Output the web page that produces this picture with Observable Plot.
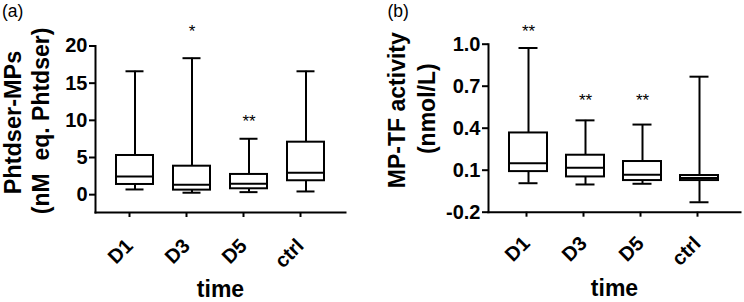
<!DOCTYPE html>
<html><head><meta charset="utf-8">
<script src="https://cdn.jsdelivr.net/npm/d3@7"></script>
<script src="https://cdn.jsdelivr.net/npm/@observablehq/plot@0.6"></script>
<style>
body{margin:0;background:#fff;}
#wrap{display:flex;width:744px;height:302px;overflow:hidden;}
</style></head><body><div id="wrap"></div>
<script>
const categories = ["D1", "D3", "D5", "ctrl"];

// Panel (a): Phtdser-MPs (nM eq. Phtdser)
const psMin = [0.70, 0.26, 0.34, 0.43];
const psQ1 = [1.37, 0.61, 0.79, 1.87];
const psMedian = [2.45, 1.33, 1.47, 2.95];
const psQ3 = [5.27, 3.83, 2.72, 7.06];
const psMax = [16.6, 18.36, 7.52, 16.6];
const psTicks = [0, 5, 10, 15, 20];
const psStarCats = ["D3", "D5"];
const psStarLabels = ["*", "**"];
const psStarY = [22.5, 10.4];

// Panel (b): MP-TF activity (nmol/L)
const tfMin = [0.007, -0.002, 0.003, -0.129];
const tfQ1 = [0.09, 0.052, 0.026, 0.026];
const tfMedian = [0.15, 0.117, 0.067, 0.045];
const tfQ3 = [0.366, 0.207, 0.162, 0.062];
const tfMax = [0.973, 0.456, 0.426, 0.768];
const tfTicks = [-0.2, 0.1, 0.4, 0.7, 1.0];
const tfStarCats = ["D1", "D3", "D5"];
const tfStarLabels = ["**", "**", "**"];
const tfStarY = [1.117, 0.625, 0.625];

function rows(mn, q1, md, q3, mx) {
  return categories.map((c, i) => ({cat: c, min: mn[i], q1: q1[i], median: md[i], q3: q3[i], max: mx[i]}));
}
function stars(cats, labels, ys) {
  return cats.map((c, i) => ({cat: c, label: labels[i], y: ys[i]}));
}

const FONT = "'Liberation Sans', Arial, sans-serif";

function panel(o) {
  const data = rows(...o.stats);
  return Plot.plot({
    width: 372, height: 302,
    marginLeft: o.ml, marginRight: o.mr, marginTop: o.mt, marginBottom: o.mb,
    style: {fontFamily: FONT, fontSize: "20px", fontWeight: "bold", color: "black", background: "white", overflow: "visible"},
    x: {type: "band", domain: categories, paddingInner: o.pi, paddingOuter: o.po},
    y: {domain: o.ydomain},
    marks: [
      Plot.axisY({ticks: o.ticks, tickFormat: o.fmt, tickSize: 6, tickPadding: 2, strokeWidth: 2, fontSize: 20, fontWeight: "bold", label: null}),
      Plot.axisX({tickSize: 5, tickPadding: o.xpad, tickRotate: -45, strokeWidth: 2, fontSize: 20, fontWeight: "bold", dx: o.xdx, label: null}),
      Plot.ruleX(data, {x: "cat", y1: "min", y2: "max", stroke: "black", strokeWidth: 2}),
      Plot.barY(data, {x: "cat", y1: "q1", y2: "q3", fill: "white", stroke: "black", strokeWidth: 2}),
      Plot.tickY(data, {x: "cat", y: "median", stroke: "black", strokeWidth: 2}),
      Plot.tickY(data, {x: "cat", y: "min", stroke: "black", strokeWidth: 2, inset: 9.5}),
      Plot.tickY(data, {x: "cat", y: "max", stroke: "black", strokeWidth: 2, inset: 9.5}),
      Plot.frame({anchor: "left", stroke: "black", strokeWidth: 2}),
      Plot.frame({anchor: "bottom", stroke: "black", strokeWidth: 2}),
      Plot.text(stars(...o.stars), {x: "cat", y: "y", text: "label", fontSize: 17, fontWeight: "normal", lineAnchor: "bottom", dy: 9.4}),
      Plot.text([o.title1], {frameAnchor: "left", rotate: -90, textAnchor: "middle", lineAnchor: "bottom", fontSize: o.t1fs, fontWeight: "bold", dx: o.t1dx, dy: o.t1dy}),
      Plot.text([o.title2], {frameAnchor: "left", rotate: -90, textAnchor: "middle", lineAnchor: "bottom", fontSize: 23, fontWeight: "bold", dx: o.t2dx, dy: o.t2dy}),
      Plot.text(["time"], {frameAnchor: "bottom", textAnchor: "middle", lineAnchor: "bottom", fontSize: 23, fontWeight: "bold", dy: o.timedy}),
      Plot.text([o.tag], {frameAnchor: "top-left", textAnchor: "start", lineAnchor: "bottom", fontSize: 17.5, fontWeight: "normal", dx: o.tagdx, dy: o.tagdy})
    ]
  });
}

const fmt1 = d => d.toFixed(1);

const left = panel({
  stats: [psMin, psQ1, psMedian, psQ3, psMax],
  ml: 95, mr: 27, mt: 45.5, mb: 90,
  pi: 0.344, po: 0.333,
  ydomain: [-2.4, 20], ticks: psTicks, fmt: d => String(d),
  xpad: 25, xdx: -5.5,
  stars: [psStarCats, psStarLabels, psStarY],
  title1: "Phtdser-MPs", title2: "(nM  eq. Phtdser)",
  t1fs: 23.5, t1dx: 20.7 - 95, t1dy: -6.7, t2dx: 48.7 - 95, t2dy: -8.3,
  timedy: 84.8,
  tag: "(a)", tagdx: -93.5, tagdy: 16 - 45.5
});

const right = panel({
  stats: [tfMin, tfQ1, tfMedian, tfQ3, tfMax],
  ml: 116, mr: 4, mt: 43.7, mb: 90.3,
  pi: 0.331, po: 0.362,
  ydomain: [-0.2, 1.0], ticks: tfTicks, fmt: fmt1,
  xpad: 23, xdx: -2,
  stars: [tfStarCats, tfStarLabels, tfStarY],
  title1: "MP-TF activity", title2: "(nmol/L)",
  t1fs: 23, t1dx: 32 - 116, t1dy: -18, t2dx: 62 - 116, t2dy: -19.5,
  timedy: 83.3,
  tag: "(b)", tagdx: 15 - 116, tagdy: 16.3 - 43.7
});

document.getElementById("wrap").append(left, right);
</script>
</body></html>
